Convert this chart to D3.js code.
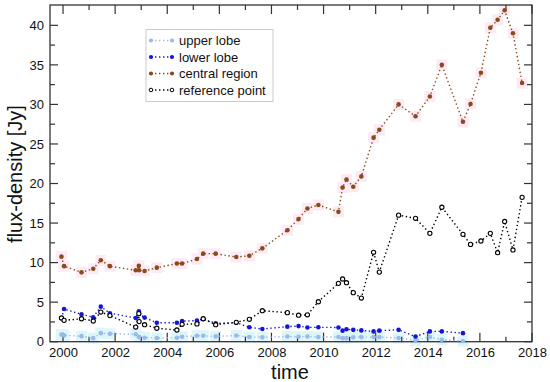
<!DOCTYPE html>
<html><head><meta charset="utf-8">
<script src="https://cdn.jsdelivr.net/npm/d3@7"></script>
<style>
body{margin:0;background:#fff;}
svg{display:block;font-family:"Liberation Sans",Arial,Helvetica,sans-serif;}
</style></head><body>
<svg id="c" width="550" height="382"></svg>
<script>
const dates = [1999.94,2000.04,2000.71,2001.16,2001.45,2001.8,2002.79,2002.91,2002.92,2003.13,2003.6,2004.37,2004.57,2005.14,2005.38,2005.86,2006.65,2007.15,2007.65,2008.61,2009.04,2009.38,2009.8,2010.57,2010.73,2010.88,2011.14,2011.45,2011.92,2012.14,2012.88,2013.53,2014.08,2014.54,2015.35,2015.64,2016.04,2016.4,2016.68,2016.95,2017.27,2017.62];
const central = [10.75,9.55,8.77,9.23,10.3,9.55,9.03,9.6,9.03,8.94,9.36,9.88,9.88,10.45,11.13,11.13,10.7,10.86,11.8,14.1,15.5,16.85,17.28,16.42,19.5,20.5,19.6,20.9,25.8,26.8,30.0,28.5,31.0,35.0,27.8,30.05,34.0,39.7,40.7,41.9,39.0,32.7];
const reference = [3.0,2.7,2.9,2.62,3.75,3.3,1.85,3.55,2.55,2.15,1.7,1.48,2.2,2.25,2.9,2.15,2.45,2.83,3.92,3.67,3.35,3.4,5.05,7.38,7.93,7.46,6.2,5.52,11.3,8.8,16.0,15.6,13.7,17.0,13.57,12.3,12.73,13.7,11.25,15.2,11.6,18.25];
const lobeDates = dates.slice(0, 35);
const lower = [2.96,4.13,3.45,3.1,4.43,3.6,3.0,3.85,3.5,3.05,2.4,2.4,2.6,2.66,2.87,2.32,2.4,1.82,1.6,1.9,1.97,1.8,1.82,1.8,1.4,1.57,1.5,1.43,1.3,1.4,1.5,0.65,1.3,1.3,1.08];
const upper = [0.9,0.8,0.7,0.45,1.08,1.0,0.95,0.6,0.6,0.5,0.47,0.5,0.63,0.76,0.76,0.67,0.78,0.6,0.55,0.66,0.62,0.66,0.6,0.6,0.45,0.45,0.55,0.58,0.58,0.58,0.46,0.17,0.6,0.25,0.08];
const xTickLabels = [2000,2002,2004,2006,2008,2010,2012,2014,2016,2018];
const yTickLabels = [0,5,10,15,20,25,30,35,40];
const seriesNames = ["upper lobe","lower lobe","central region","reference point"];

const svg = d3.select("#c");
const L = 50, R = 532, T = 5, B = 341.7;
const x = d3.scaleLinear().domain([1999.5, 2018]).range([L, R]);
const y = d3.scaleLinear().domain([0, 42.57]).range([B, T]);

const series = [
  {name: seriesNames[0], xs: lobeDates, ys: upper, color: "#9db8ea", fill: "#9db8ea", halo: "#dcf6fa"},
  {name: seriesNames[1], xs: lobeDates, ys: lower, color: "#1515d8", fill: "#1515d8", halo: null},
  {name: seriesNames[2], xs: dates, ys: central, color: "#8a4a1c", fill: "#8a4a1c", halo: "#fdeaf5"},
  {name: seriesNames[3], xs: dates, ys: reference, color: "#000", fill: "#fff", halo: null}
];

// halos (light blocks around some markers)
series.forEach(s => {
  if (!s.halo) return;
  svg.append("g").selectAll("rect").data(s.xs.map((d,i)=>[d,s.ys[i]])).join("rect")
    .attr("x", d => x(d[0]) - 5.5).attr("y", d => y(d[1]) - 5.5)
    .attr("width", 11).attr("height", 11).attr("fill", s.halo);
});

// frame
svg.append("rect").attr("x", L).attr("y", T).attr("width", R-L).attr("height", B-T)
  .attr("fill", "none").attr("stroke", "#333").attr("stroke-width", 1.3);

// axes ticks (inside)
const xMaj = d3.range(2000, 2019, 2), xMin = d3.range(2001, 2018, 2);
const yMaj = d3.range(0, 41, 5), yMin = d3.range(2.5, 42, 5);
const tk = svg.append("g").attr("stroke", "#333").attr("stroke-width", 1.2);
xMaj.forEach(v => { tk.append("line").attr("x1", x(v)).attr("x2", x(v)).attr("y1", B).attr("y2", B-9);
                    tk.append("line").attr("x1", x(v)).attr("x2", x(v)).attr("y1", T).attr("y2", T+9); });
xMin.forEach(v => { tk.append("line").attr("x1", x(v)).attr("x2", x(v)).attr("y1", B).attr("y2", B-5);
                    tk.append("line").attr("x1", x(v)).attr("x2", x(v)).attr("y1", T).attr("y2", T+5); });
yMaj.forEach(v => { tk.append("line").attr("x1", L).attr("x2", L+8).attr("y1", y(v)).attr("y2", y(v));
                    tk.append("line").attr("x1", R).attr("x2", R-8).attr("y1", y(v)).attr("y2", y(v)); });
yMin.forEach(v => { tk.append("line").attr("x1", L).attr("x2", L+5).attr("y1", y(v)).attr("y2", y(v));
                    tk.append("line").attr("x1", R).attr("x2", R-5).attr("y1", y(v)).attr("y2", y(v)); });

const xAxis = d3.axisBottom(x).tickValues(xTickLabels).tickSize(0).tickPadding(6).tickFormat(d3.format("d"));
const gx = svg.append("g").attr("transform", `translate(0,${B})`).call(xAxis);
gx.select(".domain").remove();
gx.selectAll("text").attr("font-size", 13).attr("fill", "#111").attr("font-family", "Liberation Sans, Arial, sans-serif");
const yAxis = d3.axisLeft(y).tickValues(yTickLabels).tickSize(0).tickPadding(6).tickFormat(d3.format("d"));
const gy = svg.append("g").attr("transform", `translate(${L},0)`).call(yAxis);
gy.select(".domain").remove();
gy.selectAll("text").attr("font-size", 13).attr("fill", "#111").attr("font-family", "Liberation Sans, Arial, sans-serif");

svg.append("text").attr("x", 290).attr("y", 378.5).attr("text-anchor", "middle")
  .attr("font-size", 20).attr("fill", "#111").text("time");
svg.append("text").attr("transform", `translate(22,${174}) rotate(-90)`).attr("text-anchor", "middle")
  .attr("font-size", 20).attr("fill", "#111").text("flux-density [Jy]");

// series
series.forEach(s => {
  const pts = s.xs.map((d,i)=>[d, s.ys[i]]);
  svg.append("path").datum(pts)
    .attr("d", d3.line().x(d => x(d[0])).y(d => y(d[1])))
    .attr("fill", "none").attr("stroke", s.color).attr("stroke-width", 1.4)
    .attr("stroke-dasharray", "1.4,2.6").attr("stroke-linecap", "butt");
  svg.append("g").selectAll("circle").data(pts).join("circle")
    .attr("cx", d => x(d[0])).attr("cy", d => y(d[1]))
    .attr("r", s.fill === "#fff" ? 2.1 : 2.3)
    .attr("fill", s.fill).attr("stroke", s.fill === "#fff" ? s.color : "none").attr("stroke-width", 1.1);
});

// legend
const lg = svg.append("g");
lg.append("rect").attr("x", 146).attr("y", 29.5).attr("width", 127).attr("height", 72)
  .attr("fill", "#fff").attr("stroke", "#ccc").attr("stroke-width", 1);
series.forEach((s, i) => {
  const cy = 40.5 + i * 16.5;
  lg.append("line").attr("x1", 151).attr("x2", 172).attr("y1", cy).attr("y2", cy)
    .attr("stroke", s.color).attr("stroke-width", 1.4).attr("stroke-dasharray", "1.4,2.6");
  [151, 172].forEach(cx => lg.append("circle").attr("cx", cx).attr("cy", cy)
    .attr("r", s.fill === "#fff" ? 1.8 : 2.1).attr("fill", s.fill)
    .attr("stroke", s.fill === "#fff" ? s.color : "none").attr("stroke-width", 1));
  lg.append("text").attr("x", 179).attr("y", cy + 4.7).attr("font-size", 13).attr("fill", "#111").text(s.name);
});
</script>
</body></html>
